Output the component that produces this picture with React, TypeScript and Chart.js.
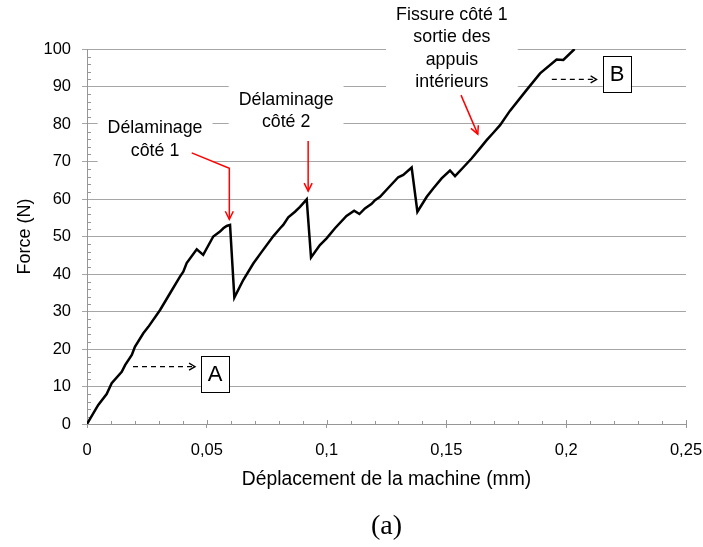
import { useEffect, useRef } from "react";
import { Chart, registerables } from "chart.js";

Chart.register(...registerables);

// ---- Data ----
const displacementMm = [
  0, 0.0047, 0.0082, 0.0103, 0.0145, 0.0159, 0.0187, 0.02, 0.0235, 0.0256,
  0.0305, 0.0346, 0.0388, 0.0402, 0.0416, 0.0458, 0.0485, 0.0527, 0.0555, 0.0569,
  0.0583, 0.0597, 0.0615, 0.0652, 0.0694, 0.0729, 0.0778, 0.0806, 0.0819, 0.084,
  0.0868, 0.0889, 0.0917, 0.0935, 0.0972, 0.1, 0.1035, 0.1083, 0.1115, 0.1137,
  0.116, 0.1188, 0.1202, 0.1223, 0.1258, 0.1299, 0.132, 0.1355, 0.1379, 0.1418,
  0.1445, 0.148, 0.1515, 0.1536, 0.157, 0.1605, 0.164, 0.1668, 0.1695, 0.1724,
  0.1765, 0.1835, 0.1891, 0.196, 0.1988, 0.2035,
];
const forceN = [
  0, 5.1, 8.0, 10.9, 13.9, 15.7, 18.4, 20.6, 24.2, 25.9,
  30.4, 34.8, 39.3, 40.6, 42.9, 46.6, 45.1, 50.0, 51.3, 52.2,
  52.8, 53.1, 33.7, 38.4, 42.8, 45.9, 50.1, 52.2, 53.1, 55.1,
  56.6, 57.9, 59.9, 44.4, 47.7, 49.5, 52.2, 55.5, 56.9, 56.0,
  57.5, 58.7, 59.7, 60.6, 63.0, 65.8, 66.4, 68.4, 56.6, 60.6,
  62.8, 65.5, 67.6, 66.1, 68.4, 70.8, 73.5, 75.7, 77.6, 79.7,
  83.5, 89.1, 93.5, 97.2, 97.1, 100,
];
const xTickValues = [0, 0.05, 0.1, 0.15, 0.2, 0.25];
const xTickLabels = ["0", "0,05", "0,1", "0,15", "0,2", "0,25"];
const yTickValues = [0, 10, 20, 30, 40, 50, 60, 70, 80, 90, 100];
const xMinorStep = 0.01;
const yMinorStep = 2;

// Callouts (data units): text lines, anchor (center x, first line y), arrow path
const calloutTexts = [
  ["Délaminage", "côté 1"],
  ["Délaminage", "côté 2"],
  ["Fissure côté 1", "sortie des", "appuis", "intérieurs"],
];
const calloutAnchors = [
  [0.0284, 78.9],
  [0.0831, 86.5],
  [0.1523, 109.1],
];
const calloutArrows = [
  [[0.0437, 72.3], [0.0594, 68.2], [0.0594, 54.6]],
  [[0.0923, 75.5], [0.0923, 62.1]],
  [[0.1561, 87.7], [0.1631, 77.3]],
];
const markerLabels = ["A", "B"];
const markerAnchors = [
  [0.0534, 13.3],
  [0.2211, 93.3],
];
const markerArrows = [
  [[0.0192, 15.3], [0.0451, 15.3]],
  [[0.194, 91.9], [0.2127, 91.9]],
];

// ---- Styles ----
const SANS = '"Liberation Sans", Arial, sans-serif';
const GRID = "#a6a6a6";
const AXIS = "#969696";
const TEXT = "#000000";

function arrowHead(ctx: CanvasRenderingContext2D, x0: number, y0: number, x1: number, y1: number, len: number, half: number) {
  const a = Math.atan2(y1 - y0, x1 - x0);
  const bx = x1 - len * Math.cos(a);
  const by = y1 - len * Math.sin(a);
  const nx = -Math.sin(a) * half;
  const ny = Math.cos(a) * half;
  ctx.beginPath();
  ctx.moveTo(bx + nx, by + ny);
  ctx.lineTo(x1, y1);
  ctx.lineTo(bx - nx, by - ny);
  ctx.stroke();
}

const overlayPlugin = {
  id: "overlay",
  beforeDatasetsDraw(chart: any) {
    const { ctx, chartArea, scales } = chart;
    const xs = scales.x;
    const ys = scales.y;
    ctx.save();
    // minor ticks (inside) + inner part of x major ticks
    ctx.strokeStyle = AXIS;
    ctx.lineWidth = 1;
    ctx.beginPath();
    const nx = Math.round(0.25 / xMinorStep);
    for (let i = 0; i <= nx; i++) {
      const X = Math.round(xs.getPixelForValue(i * xMinorStep)) + 0.5;
      const major = i % 5 === 0;
      ctx.moveTo(X, chartArea.bottom);
      ctx.lineTo(X, chartArea.bottom - (major ? 4 : 3));
    }
    const ny = Math.round(100 / yMinorStep);
    for (let j = 1; j <= ny; j++) {
      if (j % 5 === 0) continue;
      const Y = Math.round(ys.getPixelForValue(j * yMinorStep)) + 0.5;
      ctx.moveTo(chartArea.left, Y);
      ctx.lineTo(chartArea.left + 4, Y);
    }
    ctx.stroke();

    // callout texts with white backgrounds
    const fs = 17.8;
    const lh = 22.5;
    ctx.font = `${fs}px ${SANS}`;
    ctx.textAlign = "center";
    ctx.textBaseline = "middle";
    calloutTexts.forEach((lines, k) => {
      const cx = xs.getPixelForValue(calloutAnchors[k][0]);
      const cy = ys.getPixelForValue(calloutAnchors[k][1]);
      const w = Math.max(...lines.map((l) => ctx.measureText(l).width));
      ctx.fillStyle = "#ffffff";
      ctx.fillRect(cx - w / 2 - 10, cy - lh / 2 - 4, w + 20, lh * lines.length + 8);
      ctx.fillStyle = TEXT;
      lines.forEach((l, i) => ctx.fillText(l, cx, cy + i * lh));
    });
    // marker boxes backgrounds
    markerAnchors.forEach((p) => {
      const cx = xs.getPixelForValue(p[0]);
      const cy = ys.getPixelForValue(p[1]);
      ctx.fillStyle = "#ffffff";
      ctx.fillRect(cx - 14, cy - 18, 28, 36);
    });
    ctx.restore();
  },
  afterDraw(chart: any) {
    const { ctx, chartArea, scales } = chart;
    const xs = scales.x;
    const ys = scales.y;
    ctx.save();
    // red callout arrows
    ctx.strokeStyle = "#ff0000";
    ctx.lineWidth = 1.5;
    calloutArrows.forEach((path) => {
      const pts = path.map((p) => [xs.getPixelForValue(p[0]), ys.getPixelForValue(p[1])]);
      ctx.beginPath();
      pts.forEach((p, i) => (i === 0 ? ctx.moveTo(p[0], p[1]) : ctx.lineTo(p[0], p[1])));
      ctx.stroke();
      const a = pts[pts.length - 2];
      const b = pts[pts.length - 1];
      arrowHead(ctx, a[0], a[1], b[0], b[1], 8, 4);
    });
    // dashed marker arrows
    ctx.strokeStyle = "#000000";
    ctx.lineWidth = 1.3;
    markerArrows.forEach((path) => {
      const a = [xs.getPixelForValue(path[0][0]), ys.getPixelForValue(path[0][1])];
      const b = [xs.getPixelForValue(path[1][0]), ys.getPixelForValue(path[1][1])];
      ctx.setLineDash([5, 4]);
      ctx.beginPath();
      ctx.moveTo(a[0], a[1]);
      ctx.lineTo(b[0], b[1]);
      ctx.stroke();
      ctx.setLineDash([]);
      arrowHead(ctx, a[0], a[1], b[0], b[1], 6, 3.5);
    });
    // marker boxes
    ctx.font = `22px ${SANS}`;
    ctx.textAlign = "center";
    ctx.textBaseline = "middle";
    ctx.lineWidth = 1;
    markerAnchors.forEach((p, k) => {
      const cx = Math.round(xs.getPixelForValue(p[0]));
      const cy = Math.round(ys.getPixelForValue(p[1]));
      ctx.strokeStyle = "#000000";
      ctx.strokeRect(cx - 14 + 0.5, cy - 18 + 0.5, 28, 36);
      ctx.fillStyle = TEXT;
      ctx.fillText(markerLabels[k], cx, cy + 1);
    });
    // caption
    ctx.font = `28px "Liberation Serif", "DejaVu Serif", serif`;
    ctx.fillStyle = TEXT;
    ctx.fillText("(a)", (chartArea.left + chartArea.right) / 2, chartArea.bottom + 103);
    ctx.restore();
  },
};

export default function App() {
  const ref = useRef<HTMLCanvasElement>(null);
  useEffect(() => {
    if (!ref.current) return;
    const chart = new Chart(ref.current, {
      type: "line",
      data: {
        datasets: [
          {
            label: "Force",
            data: displacementMm.map((x, i) => ({ x, y: forceN[i] })),
            borderColor: "#000000",
            borderWidth: 2.5,
            pointRadius: 0,
            tension: 0,
            fill: false,
          },
        ],
      },
      options: {
        animation: false,
        responsive: false,
        devicePixelRatio: 1,
        layout: { padding: { left: 0, right: 17, top: 49, bottom: 0 } },
        plugins: { legend: { display: false }, tooltip: { enabled: false } },
        scales: {
          x: {
            type: "linear",
            min: 0,
            max: 0.25,
            afterBuildTicks: (s: any) => {
              s.ticks = xTickValues.map((v) => ({ value: v }));
            },
            afterFit: (s: any) => {
              s.height = 123;
              s.paddingLeft = 0;
              s.paddingRight = 0;
            },
            ticks: {
              padding: 13,
              color: TEXT,
              font: { family: SANS, size: 16.5 },
              maxRotation: 0,
              callback: (_v: any, i: number) => xTickLabels[i],
            },
            grid: { display: true, drawOnChartArea: false, drawTicks: true, tickLength: 4, color: AXIS },
            border: { display: true, color: AXIS },
            title: {
              display: true,
              text: "Déplacement de la machine (mm)",
              color: TEXT,
              font: { family: SANS, size: 19.3 },
              padding: { top: 0, bottom: 56 },
            },
          },
          y: {
            type: "linear",
            min: 0,
            max: 100,
            afterBuildTicks: (s: any) => {
              s.ticks = yTickValues.map((v) => ({ value: v }));
            },
            afterFit: (s: any) => {
              s.width = 87;
              s.paddingTop = 0;
              s.paddingBottom = 0;
            },
            ticks: {
              padding: 11,
              color: TEXT,
              font: { family: SANS, size: 16.5 },
            },
            grid: { color: GRID, lineWidth: 1, tickLength: 5, drawTicks: true },
            border: { display: true, color: AXIS },
            title: {
              display: true,
              text: "Force (N)",
              color: TEXT,
              font: { family: SANS, size: 18 },
              padding: { top: 14, bottom: 0 },
            },
          },
        },
      },
      plugins: [overlayPlugin],
    } as any);
    return () => chart.destroy();
  }, []);
  return (
    <div style={{ position: "absolute", left: 0, top: 0, width: 703, height: 547, background: "#ffffff" }}>
      <canvas ref={ref} width={703} height={547} style={{ width: 703, height: 547, display: "block" }} />
    </div>
  );
}
